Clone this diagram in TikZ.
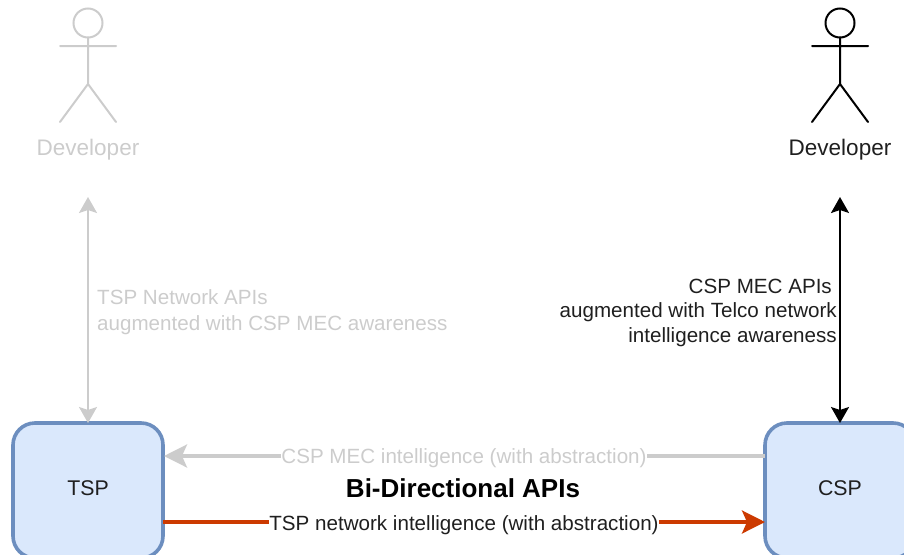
\documentclass[tikz,border=0pt]{standalone}
\usepackage{fontspec}
\setmainfont{Liberation Sans}
\usetikzlibrary{arrows.meta}
\definecolor{boxfill}{HTML}{DAE8FC}
\definecolor{boxline}{HTML}{6C8EBF}
\definecolor{fade}{HTML}{CCCCCC}
\definecolor{redline}{HTML}{CC3A00}
\definecolor{ink}{HTML}{1F1F1F}
\tikzset{
  x=1pt,y=-1pt,
  lbl/.style={font=\fontsize{20.6}{25}\selectfont,inner sep=0pt,text depth=0pt},
  actorlbl/.style={font=\fontsize{22.5}{25}\selectfont,inner sep=0pt,text depth=0pt},
  sysbox/.style={draw=boxline,fill=boxfill,line width=3.6pt,rounded corners=22pt,minimum width=150pt,minimum height=135pt,inner sep=0pt,outer sep=0pt,font=\fontsize{21.3}{25}\selectfont,text=ink},
  head/.style={circle,draw,line width=2pt,minimum size=29pt,inner sep=0pt,outer sep=0pt},
  limb/.style={line width=2pt,line cap=round},
  vtip/.style={{Stealth[length=16pt,width=18pt,inset=3pt]}-{Stealth[length=16pt,width=18pt,inset=3pt]},line width=2pt},
  htip/.style={-{Stealth[length=23pt,width=23pt,inset=5pt]},line width=3.4pt},
  wire/.style={line width=3.4pt},
}
\begin{document}
\begin{tikzpicture}
\useasboundingbox (0,0) rectangle (904,554);
\clip (0,0) rectangle (904,554);
% boxes
\node[sysbox] (tsp) at (88,490.5) {};
\node[sysbox] (csp) at (840,490.5) {};
\node[lbl,font=\fontsize{21.3}{25}\selectfont,text=ink] (tsptext) at (88,488) {TSP};
\node[lbl,font=\fontsize{21.3}{25}\selectfont,text=ink] (csptext) at (840,488) {CSP};
% left actor
\node[head,draw=fade] (headL) at (88,23) {};
\coordinate (hipL) at (88,84);
\coordinate (armLa) at (60,46);
\coordinate (armLb) at (116,46);
\coordinate (legLa) at (60,122);
\coordinate (legLb) at (116,122);
\draw[limb,fade] (headL.south) -- (hipL) (armLa) -- (armLb) (legLa) -- (hipL) -- (legLb);
\node[actorlbl,text=fade] (devL) at (88,147) {Developer};
% right actor
\node[head,draw=black] (headR) at (840,23) {};
\coordinate (hipR) at (840,84);
\coordinate (armRa) at (812,46);
\coordinate (armRb) at (868,46);
\coordinate (legRa) at (812,122);
\coordinate (legRb) at (868,122);
\draw[limb,black] (headR.south) -- (hipR) (armRa) -- (armRb) (legRa) -- (hipR) -- (legRb);
\node[actorlbl,text=ink] (devR) at (840,147) {Developer};
% vertical connectors
\coordinate (topL) at (88,197);
\coordinate (topR) at (840,197);
\draw[vtip,fade] (topL) -- (tsp.north);
\draw[vtip,black] (topR) -- (csp.north);
% vertical labels
\node[lbl,text=fade,anchor=west] (apiL1) at (97,297) {TSP Network APIs};
\node[lbl,text=fade,anchor=west] (apiL2) at (97,323) {augmented with CSP MEC awareness};
\node[lbl,text=ink,anchor=east] (apiR1) at (832,286) {CSP MEC APIs};
\node[lbl,text=ink,anchor=east] (apiR2) at (837,310) {augmented with Telco network};
\node[lbl,text=ink,anchor=east] (apiR3) at (837,335) {intelligence awareness};
% horizontal connectors
\node[lbl,text=fade] (midG) at (464,456) {CSP MEC intelligence (with abstraction)};
\node[lbl,text=ink] (midR) at (464,523) {TSP network intelligence (with abstraction)};
\node[lbl,text=black,font=\fontsize{26}{30}\selectfont\bfseries] (bidi) at (463,488) {Bi-Directional APIs};
\coordinate (gridL) at (164,456);
\coordinate (gridR) at (765,456);
\coordinate (redL) at (163,522);
\coordinate (redR) at (765,522);
\draw[wire,fade] (gridR) -- (gridR -| midG.east);
\draw[htip,fade] (gridL -| midG.west) -- (gridL);
\draw[wire,redline] (redL) -- (redL -| midR.west);
\draw[htip,redline] (redL -| midR.east) -- (redR);
\end{tikzpicture}
\end{document}
